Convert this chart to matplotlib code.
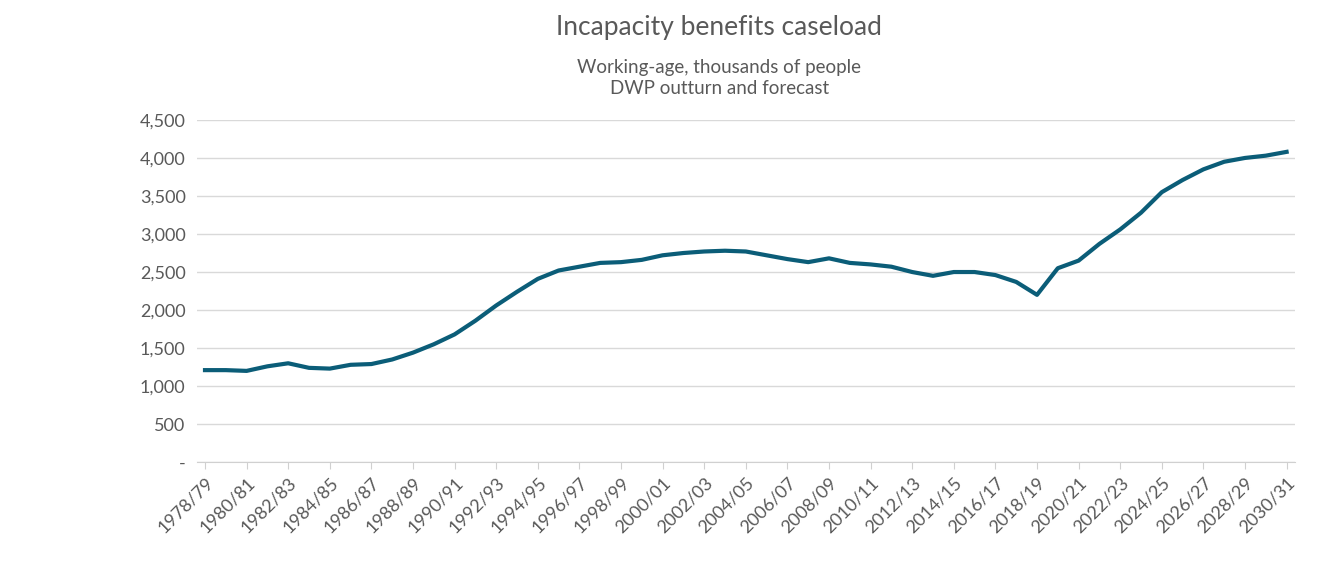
import matplotlib.pyplot as plt
import matplotlib.ticker as mticker

plt.rcParams['font.family'] = ['Lato', 'DejaVu Sans']

start_years = list(range(1978, 2031))
labels = [f"{y}/{str(y + 1)[-2:]}" for y in start_years]
caseload = [1210, 1210, 1200, 1260, 1300, 1240, 1230, 1280, 1290, 1350,
            1440, 1550, 1680, 1860, 2060, 2240, 2410, 2520, 2570, 2620,
            2630, 2660, 2720, 2750, 2770, 2780, 2770, 2720, 2670, 2630,
            2680, 2620, 2600, 2570, 2500, 2450, 2500, 2500, 2460, 2370,
            2200, 2550, 2650, 2870, 3060, 3280, 3550, 3710, 3850, 3950,
            4000, 4030, 4080]

fig = plt.figure(figsize=(13.2, 5.85), dpi=100)
ax = fig.add_axes([0.149, 0.21, 0.832, 0.585])
x = list(range(len(labels)))
ax.plot(x, caseload, color='#0b5d78', linewidth=3)

ax.set_xlim(-0.4, len(labels) - 0.6)
ax.set_ylim(0, 4500)
ax.set_yticks(range(0, 4501, 500))
ax.yaxis.set_major_formatter(mticker.FuncFormatter(lambda v, p: '-' if v == 0 else f"{int(v):,}"))
ax.set_xticks(x[::2])
ax.set_xticklabels(labels[::2], rotation=45, ha='right', rotation_mode='anchor')
ax.tick_params(axis='both', labelsize=13, colors='#595959', length=0, pad=8)
ax.tick_params(axis='x', length=5, color='#d0d0d0', pad=4)
ax.grid(axis='y', color='#d9d9d9', linewidth=1)
for s in ['top', 'right', 'left']:
    ax.spines[s].set_visible(False)
ax.spines['bottom'].set_color('#d0d0d0')

fig.text(0.545, 0.94, 'Incapacity benefits caseload', ha='center', fontsize=19, color='#595959')
fig.text(0.545, 0.875, 'Working-age, thousands of people', ha='center', fontsize=13.5, color='#595959')
fig.text(0.545, 0.84, 'DWP outturn and forecast', ha='center', fontsize=13.5, color='#595959')

fig.savefig('out.png')
